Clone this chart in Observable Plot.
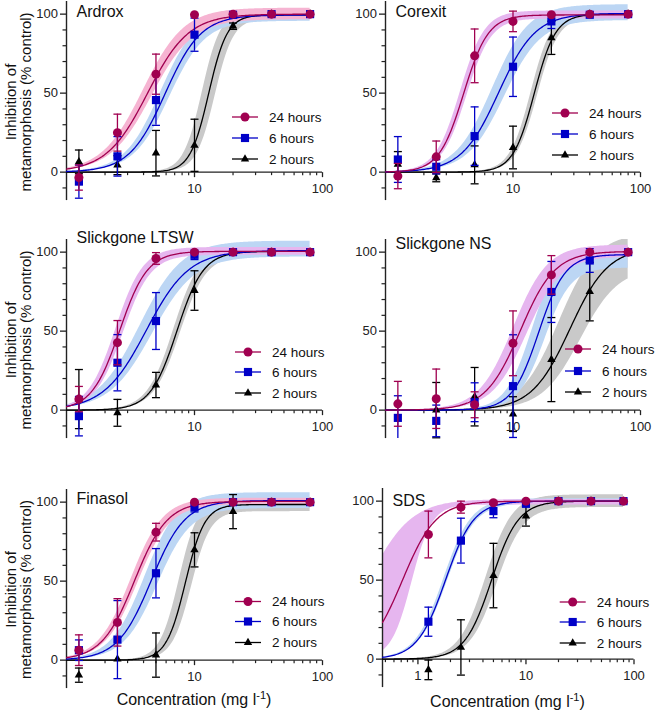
<!DOCTYPE html>
<html><head><meta charset="utf-8">
<script src="https://cdn.jsdelivr.net/npm/d3@7"></script>
<script src="https://cdn.jsdelivr.net/npm/@observablehq/plot@0.6"></script>
<style>
body{margin:0;background:#fff;}
#chart{position:relative;width:657px;height:713px;overflow:hidden;background:#fff;}
</style></head><body><div id="chart"></div>
<script>
// ---------------- data ----------------
const panelNames = ["Ardrox", "Corexit", "Slickgone LTSW", "Slickgone NS", "Finasol", "SDS"];
const concentrations = [1.25, 2.5, 5, 10, 20, 40, 80];
const seriesNames = ["24 hours", "6 hours", "2 hours"];
const xTickLabels = [[10, 100], [10, 100], [10, 100], [10, 100], [10, 100], [1, 10, 100]];
const yTickLabels = [0, 50, 100];
const yMinorTicks = [-10, 10, 20, 30, 40, 60, 70, 80, 90];
const xLabelText = "Concentration (mg l";
const yLabelLines = ["Inhibition of", "metamorphosis (% control)"];

const mean24 = [
  [-3.4, 25, 62, 99.6, 100, 100, 100],
  [-2.5, 9.7, 73.6, 95.4, 99.6, 100, 100],
  [7, 42.7, 96, 100, 100, 100, 100],
  [4, 7.2, 3.4, 42.3, 85.6, 100, 100],
  [6.3, 23.9, 81, 100, 100, 100, 100],
  [78.9, 96.2, 99, 100, 100, 100, 100]
];
const err24 = [
  [8, 11.7, 12.7, 0, 0, 0, 0],
  [8, 10, 17, 6.5, 0, 0, 0],
  [8, 14, 3.7, 0, 0, 0, 0],
  [14.2, 18.8, 8.2, 20.5, 12.2, 0, 0],
  [9.7, 15, 5.6, 0, 0, 0, 0],
  [14.8, 3.8, 1, 0, 0, 0, 0]
];
const mean6 = [
  [-6, 10, 45.6, 87, 99.6, 100, 100],
  [8, 3.4, 22.8, 66.7, 95.4, 99.6, 100],
  [-3.8, 30, 56.4, 98.3, 100, 100, 100],
  [-4.9, -6.8, 5, 15.2, 74.8, 94.7, 100],
  [6.3, 13, 55, 96.8, 100, 100, 100],
  [23.7, 75, 93.7, 98.3, 100, 100, 100]
];
const err6 = [
  [10.5, 12.5, 16, 10.5, 0, 0, 0],
  [14.5, 4.5, 18.5, 18.8, 4.5, 0, 0],
  [12.5, 17.8, 18, 3, 0, 0, 0],
  [14, 10, 12.3, 32.5, 19.3, 7.5, 0],
  [6.5, 24.7, 15.6, 3, 0, 0, 0],
  [9.2, 14.2, 4.2, 1.5, 0, 0, 0]
];
const mean2 = [
  [6.5, 4.4, 12, 17, 92.4, 100, 100],
  [5, -3.6, 4.6, 15.6, 85, 100, 100],
  [7, -1.7, 15.9, 75.7, 100, 100, 100],
  [null, 0, 8.5, -2.5, 32, 75, 100],
  [-9.5, 0.6, 3.2, 69.8, 94, 100, 100],
  [-6.8, 7.4, 52.9, 90.5, 100, 100, 100]
];
const err2 = [
  [7.5, 6, 14.4, 16.5, 2, 0, 0],
  [8, 2.5, 12, 13.5, 10.5, 0, 0],
  [18.7, 8.5, 8, 12.5, 0, 0, 0],
  [0, 17.5, 18.5, 11, 26.6, 18.5, 0],
  [4.5, 0, 14, 10.8, 10.8, 0, 0],
  [6.2, 17.5, 20.4, 6.3, 0, 0, 0]
];
// fitted dose-response parameters: [EC50, Hill slope, top]
const fit24 = [[4.3, 2.7, 100], [4.1, 4.5, 99.5], [2.6, 4, 100.5], [11.4, 3.2, 100.5], [3.4, 3.4, 100.5], [0.72, 2.8, 100]];
const fit6  = [[5.9, 3.1, 99.5], [7.7, 3.0, 100.5], [4.2, 2.6, 101], [15.9, 4.2, 98.5], [4.6, 3.3, 101], [1.8, 3.33, 100]];
const fit2  = [[12.9, 6, 99.5], [14.7, 5.2, 100], [7.3, 4.2, 100.5], [28, 2.9, 103], [8.5, 5.8, 98.5], [4.8, 3.5, 100]];
// confidence band edges: [EC50 lo, slope lo, top lo, EC50 hi, slope hi, top hi]
const band24 = [
  [4.65, 2.7, 96.5, 3.98, 2.7, 103.8],
  [4.35, 4.5, 97, 3.87, 4.5, 102],
  [2.78, 4, 98, 2.43, 4, 103],
  [12.9, 3.2, 97, 10.1, 3.2, 104.5],
  [3.62, 3.4, 98.5, 3.19, 3.4, 102.5],
  [0.88, 4.6, 97.5, 0.354, 2.18, 101]
];
const band6 = [
  [6.4, 3.1, 95.5, 5.45, 3.1, 101.5],
  [8.6, 3.0, 96, 6.9, 3.0, 106],
  [4.7, 2.6, 97, 3.75, 2.6, 107],
  [17.8, 4.2, 90, 14.2, 4.2, 103],
  [5.15, 3.3, 96, 4.1, 3.3, 106],
  [1.87, 3.33, 98.5, 1.73, 3.33, 101.5]
];
const band2 = [
  [14.5, 6, 97, 11.5, 6, 101.5],
  [15.6, 5.2, 98, 13.9, 5.2, 102],
  [7.75, 4.2, 98, 6.9, 4.2, 103],
  [34, 2.9, 90, 23, 2.9, 112],
  [9.5, 5.8, 94, 7.6, 5.8, 102],
  [5.4, 3.5, 96, 4.27, 3.5, 104]
];
const xMinValues = [1, 1, 1, 1, 1, 0.47];

// ---------------- layout / style ----------------
const FONT = '"Liberation Sans", Arial, Helvetica, sans-serif';
const PX = 1.58, Y0 = -18, Y1 = 108;
const plotH = (Y1 - Y0) * PX;
const ML = 46, MR = 16, MT = 24, MB = 30;
const AXIS = "#222";
const C24 = "#A00050", C6 = "#0000C8", C2 = "#000000";
const PINK = "#F6B4D2", LAV = "#E6B6EF", BAND6C = "#BCD6F4", BAND2C = "#C9C9C9";
const layout = [
  {axisX: 66,    zeroY: 172,   w: 256,   title: 15.3, legendX: 179, legendY: [-55, -34, -13], b24: PINK},
  {axisX: 385,   zeroY: 172,   w: 255,   title: 15.3, legendX: 180, legendY: [-59, -38, -17], b24: LAV},
  {axisX: 66,    zeroY: 410,   w: 256,   title: 3.6,  legendX: 182, legendY: [-58, -38, -17], b24: LAV},
  {axisX: 385,   zeroY: 410,   w: 255,   title: 9.3,  legendX: 193, legendY: [-61, -39, -18], b24: LAV},
  {axisX: 66,    zeroY: 659.5, w: 256,   title: 14.6, legendX: 182, legendY: [-58, -38, -17], b24: PINK, xlab: 705},
  {axisX: 381.7, zeroY: 659,   w: 251.5, title: 17.6, legendX: 191, legendY: [-57, -37, -16], b24: LAV, xlab: 707}
];

const hill = (x, p) => p[2] / (1 + Math.pow(p[0] / x, p[1]));
const tickDown = len => ({draw(ctx) { ctx.moveTo(0, 0); ctx.lineTo(0, len); }});
const capSym = len => ({draw(ctx) { ctx.moveTo(-len / 2, 0); ctx.lineTo(len / 2, 0); }});

const container = document.getElementById("chart");

panelNames.forEach((name, i) => {
  const L = layout[i];
  const xMin = xMinValues[i];
  const defs = [
    {mean: mean2[i], err: err2[i], fit: fit2[i], band: band2[i], color: C2, fill: BAND2C, symbol: "triangle", r: 3.1},
    {mean: mean6[i], err: err6[i], fit: fit6[i], band: band6[i], color: C6, fill: BAND6C, symbol: "square", r: 4.6},
    {mean: mean24[i], err: err24[i], fit: fit24[i], band: band24[i], color: C24, fill: L.b24, symbol: "circle", r: 4.5}
  ];
  const xs = d3.range(0, 201).map(k => Math.pow(10, Math.log10(xMin) + (Math.log10(80) - Math.log10(xMin)) * k / 200));
  const marks = [];
  defs.forEach(s => {
    const lo = [s.band[0], s.band[1], s.band[2]], hi = [s.band[3], s.band[4], s.band[5]];
    const rows = xs.map(x => { const a = hill(x, lo), b = hill(x, hi); return {x, y1: Math.min(a, b), y2: Math.max(a, b)}; });
    marks.push(Plot.areaY(rows, {x: "x", y1: "y1", y2: "y2", fill: s.fill, clip: true}));
  });
  // axes
  marks.push(Plot.ruleX([xMin], {stroke: AXIS, strokeWidth: 1.4}));
  marks.push(Plot.ruleY([0], {stroke: AXIS, strokeWidth: 1.4}));
  marks.push(Plot.axisY({ticks: yTickLabels, tickSize: 6, tickPadding: 2.5, label: null, stroke: AXIS, strokeWidth: 1.3, fontSize: 13}));
  marks.push(Plot.axisY({ticks: yMinorTicks, tickSize: 3.5, tickFormat: () => "", label: null, stroke: AXIS, strokeWidth: 1.2}));
  const majors = [0.1, 1, 10, 100].filter(v => v >= xMin && v <= 100);
  const minors = [];
  [0.1, 1, 10].forEach(dec => { for (let m = 2; m <= 9; m++) { const v = dec * m; if (v >= xMin && v <= 100) minors.push(v); } });
  marks.push(Plot.dot(majors.filter(v => v > xMin), {x: d => d, y: 0, symbol: tickDown(5), fill: "none", stroke: AXIS, strokeWidth: 1.3}));
  marks.push(Plot.dot(minors, {x: d => d, y: 0, symbol: tickDown(3), fill: "none", stroke: AXIS, strokeWidth: 1.2}));
  marks.push(Plot.text(xTickLabels[i], {x: d => d, y: 0, dy: 17, text: d => String(d), fontSize: 13, fill: AXIS}));
  // curves
  defs.forEach(s => {
    const rows = xs.map(x => ({x, y: hill(x, s.fit)}));
    marks.push(Plot.line(rows, {x: "x", y: "y", stroke: s.color, strokeWidth: 1.3, clip: true}));
  });
  // error bars + markers
  defs.forEach(s => {
    const pts = concentrations.map((c, k) => ({x: c, y: s.mean[k], e: s.err[k]})).filter(d => d.y != null);
    const bars = pts.filter(d => d.e > 0);
    const caps = bars.flatMap(d => [{x: d.x, y: d.y - d.e}, {x: d.x, y: d.y + d.e}]).filter(d => d.y >= Y0 && d.y <= Y1);
    marks.push(Plot.ruleX(bars, {x: "x", y1: d => d.y - d.e, y2: d => d.y + d.e, stroke: s.color, strokeWidth: 1.3, clip: true}));
    marks.push(Plot.dot(caps, {x: "x", y: "y", symbol: capSym(8), fill: "none", stroke: s.color, strokeWidth: 1.3}));
    marks.push(Plot.dot(pts, {x: "x", y: "y", symbol: s.symbol, r: s.r, fill: s.color, stroke: "none"}));
  });
  marks.push(Plot.text([name], {frameAnchor: "top-left", dx: 10, dy: L.title, text: d => d, textAnchor: "start", lineAnchor: "bottom", fontSize: 16, fill: "#111"}));

  const svg = Plot.plot({
    width: ML + L.w + MR,
    height: MT + plotH + MB,
    marginLeft: ML, marginRight: MR, marginTop: MT, marginBottom: MB,
    x: {type: "log", domain: [xMin, 100], axis: null},
    y: {domain: [Y0, Y1]},
    style: {fontFamily: FONT, fontSize: "13px", color: AXIS, background: "transparent", overflow: "visible"},
    marks
  });
  svg.style.position = "absolute";
  svg.style.left = (L.axisX - ML) + "px";
  svg.style.top = (L.zeroY - Y1 * PX - MT) + "px";
  container.appendChild(svg);
});

// ---------------- overlay: legends and axis titles ----------------
const ov = d3.select(container).append("svg")
  .attr("width", 657).attr("height", 713)
  .style("position", "absolute").style("left", "0px").style("top", "0px")
  .style("font-family", FONT);
const legendDefs = [
  {name: seriesNames[0], color: C24, type: d3.symbolCircle, r: 4.5},
  {name: seriesNames[1], color: C6, type: d3.symbolSquare, r: 4.6},
  {name: seriesNames[2], color: C2, type: d3.symbolTriangle, r: 3.1}
];
layout.forEach((L, i) => {
  const cx = L.axisX + L.legendX;
  legendDefs.forEach((s, k) => {
    const y = L.zeroY + L.legendY[k];
    ov.append("line").attr("x1", cx - 13).attr("x2", cx + 13).attr("y1", y).attr("y2", y)
      .attr("stroke", s.color).attr("stroke-width", 1.3);
    ov.append("path").attr("d", d3.symbol(s.type, Math.PI * s.r * s.r)())
      .attr("transform", `translate(${cx},${y})`).attr("fill", s.color);
    ov.append("text").attr("x", cx + 24).attr("y", y).attr("dy", "0.35em")
      .attr("font-size", 13.5).attr("fill", "#111").text(s.name);
  });
  if (i % 2 === 0) {
    const g = ov.append("g").attr("transform", `translate(0,${L.zeroY - 70}) rotate(-90)`);
    g.append("text").attr("x", 0).attr("y", 15.5).attr("text-anchor", "middle").attr("font-size", 15).attr("fill", "#111").text(yLabelLines[0]);
    g.append("text").attr("x", 0).attr("y", 30.5).attr("text-anchor", "middle").attr("font-size", 15).attr("fill", "#111").text(yLabelLines[1]);
  }
  if (L.xlab) {
    const t = ov.append("text").attr("x", L.axisX + L.w / 2).attr("y", L.xlab)
      .attr("text-anchor", "middle").attr("font-size", 16).attr("fill", "#111");
    t.append("tspan").text(xLabelText);
    t.append("tspan").attr("font-size", 11).attr("dy", -6).text("-1");
    t.append("tspan").attr("dy", 6).text(")");
  }
});
</script></body></html>
